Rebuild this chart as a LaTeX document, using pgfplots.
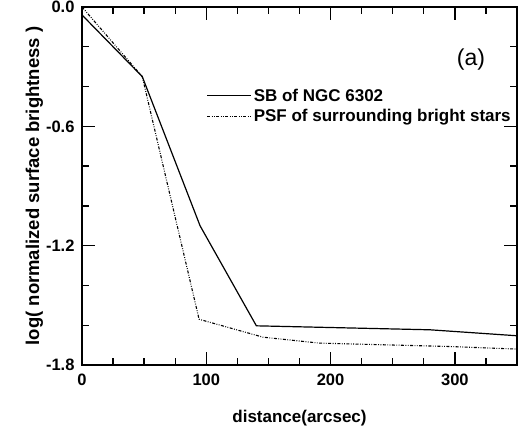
\documentclass[border=0pt]{standalone}
\usepackage{fontspec}
\setmainfont{Liberation Sans}
\usepackage{pgfplots}
\pgfplotsset{compat=1.18}
\begin{document}
\begin{tikzpicture}
\begin{axis}[
  at={(0,0)}, anchor=south west,
  scale only axis, width=435pt, height=358pt,
  xmin=0, xmax=350, ymin=-1.8, ymax=0,
  xtick={0,100,200,300}, minor xtick={25,50,75,125,150,175,225,250,275,325},
  ytick={-1.8,-1.2,-0.6,0}, minor ytick={-1.6,-1.4,-1.0,-0.8,-0.4,-0.2},
  yticklabels={-1.8,-1.2,-0.6,0.0},
  tick align=inside, major tick length=13pt, minor tick length=7pt,
  every tick/.style={black, line width=1.3pt},
  axis line style={line width=1.6pt},
  xtick pos=both, ytick pos=both,
  /pgf/number format/assume math mode=true,
  tick label style={font=\fontsize{16.5}{19}\selectfont\bfseries},
  xticklabel style={yshift=-5pt},
  yticklabel style={xshift=-4pt},
  xlabel={distance(arcsec)}, ylabel={log( normalized surface brightness )},
  xlabel style={font=\fontsize{17}{20}\selectfont\bfseries, yshift=-18pt},
  ylabel style={font=\fontsize{18.5}{21}\selectfont\bfseries, yshift=-4pt},
  legend style={draw=none, fill=none, at={(axis cs:100,-0.40)}, anchor=north west,
    font=\fontsize{17}{20}\selectfont\bfseries, row sep=3pt, inner sep=0pt},
  legend cell align=left,
  legend image code/.code={\draw[#1] (0cm,0cm) -- (1.55cm,0cm);},
]
\addplot[black, line width=1.2pt] coordinates {(0,-0.04) (48.5,-0.35) (95,-1.10) (140.3,-1.603) (280,-1.623) (350,-1.653)};
\addlegendentry{SB of NGC 6302}
\addplot[black, line width=1.1pt, dash pattern=on 3pt off 1.5pt on 0.8pt off 1.5pt on 0.8pt off 1.5pt] coordinates {(0,0.0) (48.5,-0.35) (94.2,-1.57) (145.6,-1.66) (191,-1.69) (295.6,-1.707) (350,-1.72)};
\addlegendentry{PSF of surrounding bright stars}
\node[font=\fontsize{23}{26}\selectfont] at (axis cs:313,-0.266) {(a)};
\end{axis}
\pgfresetboundingbox
\path (-82pt,-69pt) rectangle (446pt,365pt);
\end{tikzpicture}
\end{document}
